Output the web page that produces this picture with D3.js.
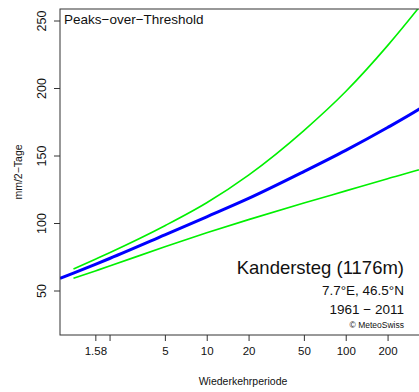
<!DOCTYPE html>
<html>
<head>
<meta charset="utf-8">
<script src="https://cdn.jsdelivr.net/npm/d3@7"></script>
<style>
  html, body { margin: 0; padding: 0; background: #fff; }
  svg { display: block; font-family: "Liberation Sans", Arial, Helvetica, sans-serif; }
</style>
</head>
<body>
<svg id="chart" width="419" height="392"></svg>
<script>
// Return periods (years) and return levels (mm/2 days)
const periodsMean = [0.88, 1.1, 1.58, 2, 5, 10, 20, 50, 100, 200, 336, 378];
const levelsMean  = [59.0, 62.9, 69.4, 73.7, 91.2, 104.6, 118.2, 138.1, 153.8, 170.7, 184.2, 187.5];

// 95% confidence band
const periodsBand = [1.1, 1.58, 2, 5, 10, 20, 50, 100, 200, 332, 378];
const levelsUpper = [65.9, 73.2, 78.0, 98.0, 115.0, 135.5, 168.5, 197.4, 231.4, 258.9, 266.2];
const levelsLower = [59.0, 64.5, 68.1, 82.4, 92.7, 102.5, 114.8, 123.8, 132.8, 139.2, 141.0];

// Axis ticks
const xTickValues = [1.58, 2, 5, 10, 20, 50, 100, 200];
const xTickLabels = ["1.58", "", "5", "10", "20", "50", "100", "200"];
const yTickValues = [50, 100, 150, 200, 250];

const svg = d3.select("#chart");
const m = { left: 60, right: 426, top: 9, bottom: 335 };

const x = d3.scaleLog().domain([0.88, 378]).range([m.left, m.right]);
const y = d3.scaleLinear().domain([50, 250]).range([290.5, 20.5]);

svg.append("defs").append("clipPath").attr("id", "plotclip")
  .append("rect").attr("x", m.left).attr("y", m.top)
  .attr("width", m.right - m.left).attr("height", m.bottom - m.top);

const plot = svg.append("g").attr("clip-path", "url(#plotclip)");

const line = d3.line().x(d => x(d[0])).y(d => y(d[1])).curve(d3.curveMonotoneX);

plot.append("path")
  .datum(d3.zip(periodsBand, levelsUpper))
  .attr("d", line).attr("fill", "none").attr("stroke", "#00f000").attr("stroke-width", 1.6);
plot.append("path")
  .datum(d3.zip(periodsBand, levelsLower))
  .attr("d", line).attr("fill", "none").attr("stroke", "#00f000").attr("stroke-width", 1.6);
plot.append("path")
  .datum(d3.zip(periodsMean, levelsMean))
  .attr("d", line).attr("fill", "none").attr("stroke", "#0000ff").attr("stroke-width", 3);

// Plot frame
svg.append("rect")
  .attr("x", m.left).attr("y", m.top).attr("width", m.right - m.left).attr("height", m.bottom - m.top)
  .attr("fill", "none").attr("stroke", "#333").attr("stroke-width", 1);

// X axis
const xAxis = d3.axisBottom(x).tickValues(xTickValues)
  .tickFormat((d, i) => xTickLabels[i]).tickSize(6).tickPadding(6).tickSizeOuter(0);
const gx = svg.append("g").attr("transform", `translate(0,${m.bottom})`).call(xAxis);
gx.select(".domain").remove();
gx.selectAll(".tick line").attr("stroke", "#333");
gx.selectAll(".tick text").attr("font-size", 11.5).attr("fill", "#111")
  .attr("font-family", "Liberation Sans, Arial, sans-serif");

// Y axis
const yAxis = d3.axisLeft(y).tickValues(yTickValues).tickFormat(d3.format("d"))
  .tickSize(6).tickSizeOuter(0);
const gy = svg.append("g").attr("transform", `translate(${m.left},0)`).call(yAxis);
gy.select(".domain").remove();
gy.selectAll(".tick line").attr("stroke", "#333");
gy.selectAll(".tick text")
  .attr("font-size", 12.5).attr("fill", "#111")
  .attr("font-family", "Liberation Sans, Arial, sans-serif")
  .attr("text-anchor", "middle").attr("x", -18.5).attr("dy", "0.35em")
  .attr("transform", "rotate(-90,-18.5,0)");

// Axis titles
svg.append("text").attr("x", 243).attr("y", 385).attr("text-anchor", "middle")
  .attr("font-size", 10.5).attr("fill", "#111").text("Wiederkehrperiode");
svg.append("text").attr("transform", "translate(22,172) rotate(-90)")
  .attr("text-anchor", "middle").attr("font-size", 10.5).attr("fill", "#111").text("mm/2\u2212Tage");

// Annotations
svg.append("text").attr("x", 64).attr("y", 23.5).attr("font-size", 13.5).attr("fill", "#111")
  .text("Peaks\u2212over\u2212Threshold");
svg.append("text").attr("x", 404).attr("y", 273.5).attr("text-anchor", "end")
  .attr("font-size", 18.5).attr("fill", "#111").text("Kandersteg (1176m)");
svg.append("text").attr("x", 404).attr("y", 295).attr("text-anchor", "end")
  .attr("font-size", 13.5).attr("fill", "#111").text("7.7\u00b0E, 46.5\u00b0N");
svg.append("text").attr("x", 404).attr("y", 314).attr("text-anchor", "end")
  .attr("font-size", 13.5).attr("fill", "#111").text("1961 \u2212 2011");
svg.append("text").attr("x", 404).attr("y", 327.5).attr("text-anchor", "end")
  .attr("font-size", 8.5).attr("fill", "#111").text("\u00a9 MeteoSwiss");
</script>
</body>
</html>
